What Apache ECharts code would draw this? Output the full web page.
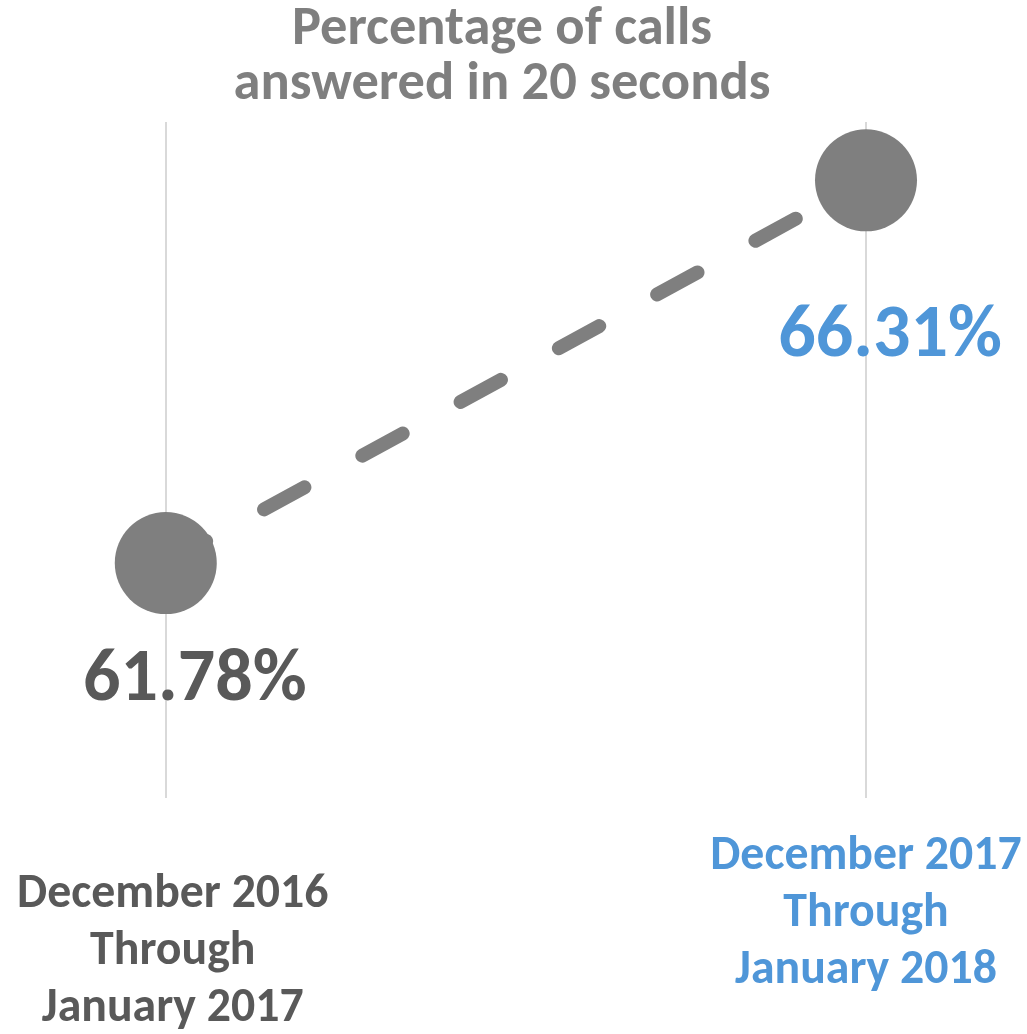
<!DOCTYPE html>
<html>
<head>
<meta charset="utf-8">
<script src="https://cdn.jsdelivr.net/npm/echarts@6/dist/echarts.min.js"></script>
<style>
  html, body { margin: 0; padding: 0; background: #ffffff; }
  #chart { width: 1027px; height: 1034px; }
</style>
</head>
<body>
<div id="chart"></div>
<script>
// Periods compared and the share of calls answered within 20 seconds
const periods = ['December 2016\nThrough\nJanuary 2017', 'December 2017\nThrough\nJanuary 2018'];
const answeredPct = [61.78, 66.31];
const yTicks = { min: 59, max: 67 };

const FONT = 'Carlito, Lato, "Open Sans", sans-serif';
const GREY = '#7f7f7f';
const DARK = '#595959';
const BLUE = '#4f96d8';

const chart = echarts.init(document.getElementById('chart'), null, { renderer: 'canvas' });

chart.setOption({
  backgroundColor: '#ffffff',
  animation: false,
  title: {
    text: 'Percentage of calls\nanswered in 20 seconds',
    left: 497,
    textAlign: 'center',
    top: -2,
    textStyle: {
      fontFamily: FONT,
      fontWeight: 'bold',
      fontSize: 54.5,
      lineHeight: 55,
      color: GREY
    }
  },
  grid: { left: 165, right: 161, top: 122, bottom: 236 },
  xAxis: {
    type: 'category',
    boundaryGap: false,
    data: periods,
    axisLine: { show: false },
    axisTick: { show: false },
    splitLine: { show: true, lineStyle: { color: '#d9d9d9', width: 2 } },
    axisLabel: {
      margin: 31,
      interval: 0,
      formatter: (val, idx) => {
        const lines = val.split('\n');
        if (idx === 0) {
          return '{gap|}\n' + lines.map(l => '{a|' + l + '}').join('\n');
        }
        return lines.map(l => '{b|' + l + '}').join('\n');
      },
      rich: {
        gap: { height: 38, lineHeight: 38 },
        a: { fontFamily: FONT, fontWeight: 'bold', fontSize: 47.8, lineHeight: 57, color: DARK, padding: [0, 0, 0, 14] },
        b: { fontFamily: FONT, fontWeight: 'bold', fontSize: 47.8, lineHeight: 57, color: BLUE }
      }
    }
  },
  yAxis: {
    type: 'value',
    min: yTicks.min,
    max: yTicks.max,
    show: false,
    splitLine: { show: false }
  },
  series: [{
    type: 'line',
    data: [
      {
        value: answeredPct[0],
        label: { offset: [29, 118], color: DARK }
      },
      {
        value: answeredPct[1],
        label: { offset: [24, 157], color: BLUE }
      }
    ],
    symbol: 'circle',
    symbolSize: 102,
    itemStyle: { color: GREY },
    lineStyle: { color: GREY, width: 14, type: [46, 66], cap: 'round' },
    label: {
      show: true,
      position: 'inside',
      formatter: p => p.value.toFixed(2) + '%',
      fontFamily: FONT,
      fontWeight: 'bold',
      fontSize: 74,
      align: 'center',
      verticalAlign: 'middle'
    },
    z: 2
  }]
});
</script>
</body>
</html>
